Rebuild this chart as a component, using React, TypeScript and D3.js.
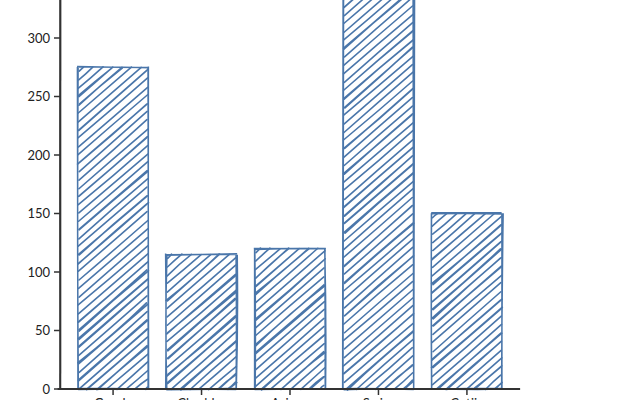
import React, { useEffect, useRef } from "react";
import * as d3 from "d3";

const categories = ["Gouda", "Cheddar", "Asiago", "Swiss", "Cotija"];
const values = [275, 115, 120, 380, 150];
const yTicks = [0, 50, 100, 150, 200, 250, 300];

const W = 640;
const H = 400;
const FILL = "#4a76aa";
const AXIS = "#333";

// small seeded generator so the sketchy wobble is the same on every render
function makeRng(seed: number) {
  let s = seed;
  return () => {
    s = (s * 16807) % 2147483647;
    return s / 2147483647;
  };
}

function roughLine(rng: () => number, x1: number, y1: number, x2: number, y2: number, rough = 1) {
  const j = () => (rng() - 0.5) * 2 * rough;
  const len = Math.hypot(x2 - x1, y2 - y1);
  const bow = (rng() - 0.5) * Math.min(len * 0.01, 2) * rough;
  const mx = (x1 + x2) / 2 + bow * (y2 - y1) / (len || 1);
  const my = (y1 + y2) / 2 - bow * (x2 - x1) / (len || 1);
  return `M${x1 + j()},${y1 + j()} Q${mx + j()},${my + j()} ${x2 + j()},${y2 + j()}`;
}

export default function App() {
  const ref = useRef<SVGSVGElement | null>(null);

  useEffect(() => {
    document.body.style.margin = "0";
    if (!ref.current) return;
    const svg = d3.select(ref.current);
    svg.selectAll("*").remove();

    const x = d3.scaleBand().domain(categories).range([60, 520]).padding(0.2);
    const y = d3.scaleLinear().domain([0, 300]).range([389, 38]);
    const rng = makeRng(7);

    const bars = svg.append("g");
    categories.forEach((c, i) => {
      const x0 = x(c)!;
      const x1 = x0 + x.bandwidth();
      const y0 = y(values[i]);
      const y1 = y(0);
      const k = Math.tan((41 * Math.PI) / 180);
      const gap = 6.3;
      const step = gap / Math.cos((41 * Math.PI) / 180);
      const paths: string[] = [];
      for (let cc = y0 + k * x0 + step * 0.6; cc < y1 + k * x1; cc += step) {
        const xa = Math.max(x0 + 1, (cc - y1) / k);
        const xb = Math.min(x1 - 1, (cc - y0) / k);
        if (xb - xa < 1) continue;
        const ya = cc - k * xa;
        const yb = cc - k * xb;
        paths.push(roughLine(rng, xa, ya, xb, yb, 0.6));
        if (rng() < 0.45) paths.push(roughLine(rng, xa, ya, xb, yb, 1.1));
      }
      bars.append("path")
        .attr("d", paths.join(" "))
        .attr("fill", "none")
        .attr("stroke", FILL)
        .attr("stroke-width", 1.6)
        .attr("stroke-linecap", "round");

      const outline: string[] = [];
      for (let r = 0; r < 2; r++) {
        outline.push(roughLine(rng, x0, y0, x1, y0, 0.9));
        outline.push(roughLine(rng, x1, y0, x1, y1, 0.9));
        outline.push(roughLine(rng, x1, y1, x0, y1, 0.9));
        outline.push(roughLine(rng, x0, y1, x0, y0, 0.9));
      }
      bars.append("path")
        .attr("d", outline.join(" "))
        .attr("fill", "none")
        .attr("stroke", FILL)
        .attr("stroke-width", 1.5);
    });

    const axes = svg.append("g").attr("stroke", AXIS).attr("fill", "none").attr("stroke-width", 2);
    axes.append("path").attr("d", roughLine(rng, 60, -5, 60, y(0), 0.4));
    axes.append("path").attr("d", roughLine(rng, 60, -5, 60, y(0), 0.3)).attr("stroke-width", 1);
    axes.append("path").attr("d", roughLine(rng, 58, y(0), 520, y(0), 0.4));
    axes.append("path").attr("d", roughLine(rng, 58, y(0), 520, y(0), 0.3)).attr("stroke-width", 1);

    yTicks.forEach((t) => {
      axes.append("line")
        .attr("x1", 54).attr("x2", 60)
        .attr("y1", y(t)).attr("y2", y(t))
        .attr("stroke-width", 1.5);
      svg.append("text")
        .attr("x", 50).attr("y", y(t))
        .attr("dy", "0.35em")
        .attr("text-anchor", "end")
        .attr("font-family", "Lato, 'Noto Sans', sans-serif")
        .attr("font-size", 13)
        .attr("fill", "#222")
        .text(t);
    });

    categories.forEach((c) => {
      const cx = x(c)! + x.bandwidth() / 2;
      axes.append("line")
        .attr("x1", cx).attr("x2", cx)
        .attr("y1", y(0)).attr("y2", y(0) + 6)
        .attr("stroke-width", 1.5);
      svg.append("text")
        .attr("x", cx).attr("y", y(0) + 19)
        .attr("text-anchor", "middle")
        .attr("font-family", "Lato, 'Noto Sans', sans-serif")
        .attr("font-size", 13)
        .attr("fill", "#222")
        .text(c);
    });
  }, []);

  return <svg ref={ref} width={W} height={H} style={{ display: "block" }} />;
}
